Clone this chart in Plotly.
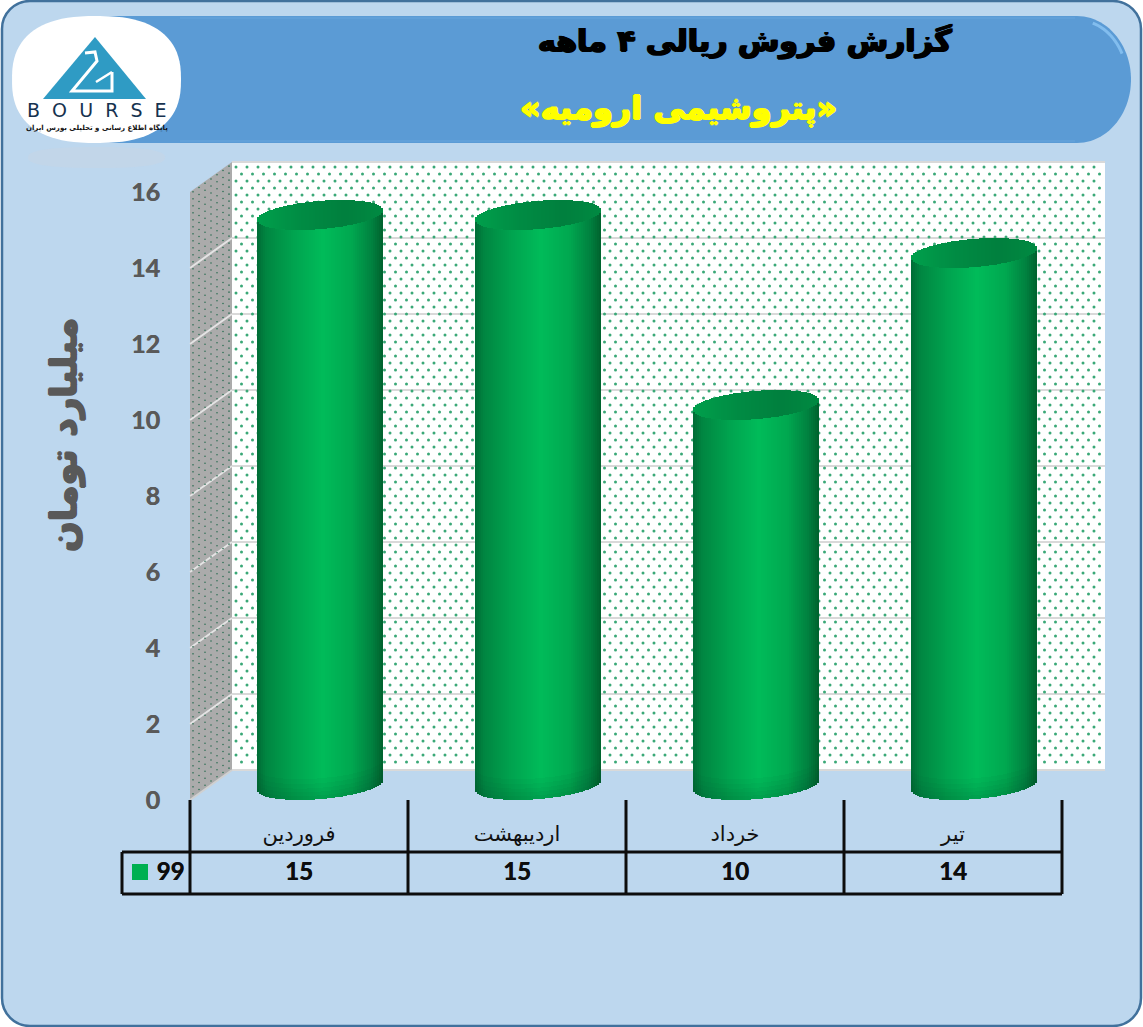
import numpy as np
import plotly.graph_objects as go

# ---- data ----
months = ["فروردین", "اردیبهشت", "خرداد", "تیر"]
sales = [15, 15, 10, 14]
series_name = "99"
y_ticks = [0, 2, 4, 6, 8, 10, 12, 14, 16]
title_1 = "گزارش فروش ریالی ۴ ماهه"
title_2 = "«پتروشیمی ارومیه»"
y_title = "میلیارد تومان"

W, H = 1143, 1027
X0, Y0, CAT_W, UNIT = 190, 800, 218, 38   # pixel origin and scale of the front plane
DX, DY = 42, 30                            # depth of the 3-D box
R, SLICE = 63, 2                           # cylinder half width, slice width


def U(px):
    return (px - X0) / CAT_W


def V(py):
    return (Y0 - py) / UNIT


def PX(x):
    return x / W


def PY(y):
    return 1 - y / H


def path(points, close=True):
    s = "M" + " L".join(f"{PX(x):.5f},{PY(y):.5f}" for x, y in points)
    return s + (" Z" if close else "")


def rounded(x0, y0, x1, y1, r):
    k = 0.45 * r
    return (f"M{PX(x0+r)},{PY(y0)} L{PX(x1-r)},{PY(y0)} "
            f"C{PX(x1-k)},{PY(y0)} {PX(x1)},{PY(y0+k)} {PX(x1)},{PY(y0+r)} "
            f"L{PX(x1)},{PY(y1-r)} C{PX(x1)},{PY(y1-k)} {PX(x1-k)},{PY(y1)} {PX(x1-r)},{PY(y1)} "
            f"L{PX(x0+r)},{PY(y1)} C{PX(x0+k)},{PY(y1)} {PX(x0)},{PY(y1-k)} {PX(x0)},{PY(y1-r)} "
            f"L{PX(x0)},{PY(y0+r)} C{PX(x0)},{PY(y0+k)} {PX(x0+k)},{PY(y0)} {PX(x0+r)},{PY(y0)} Z")


def band_path():
    x0, x1, y0, y1 = 90, 1131, 16, 143
    rx, ry = 54, 63.5
    t = np.linspace(-np.pi / 2, np.pi / 2, 50)
    pts = [(x0, y0)] + [(x1 - rx + rx * np.cos(a), y0 + ry + ry * np.sin(a)) for a in t] + [(x0, y1)]
    return path(pts)


def blob_path(x0, y0, x1, y1, e=2.5):
    cx, cy = (x0 + x1) / 2, (y0 + y1) / 2
    a, b = (x1 - x0) / 2, (y1 - y0) / 2
    t = np.linspace(0, 2 * np.pi, 90)
    xs = cx + a * np.sign(np.cos(t)) * np.abs(np.cos(t)) ** (2 / e)
    ys = cy + b * np.sign(np.sin(t)) * np.abs(np.sin(t)) ** (2 / e)
    return path(list(zip(xs, ys)))


shapes = []


def add(p, fill=None, line=None, lw=0, layer="below", opacity=1):
    shapes.append(dict(type="path", path=p, xref="paper", yref="paper", fillcolor=fill or "rgba(0,0,0,0)",
                       line=dict(color=line or "rgba(0,0,0,0)", width=lw), layer=layer, opacity=opacity))


# panel and header band
add(rounded(2, 1, 1141, 1026, 28), "#BDD7EE", "#41719C", 2.5)
add(band_path(), "#5B9BD5")
glow = np.linspace(-1.25, -0.45, 14)
add(path([(1077 + 50 * np.cos(a), 79.5 + 59.5 * np.sin(a)) for a in glow], close=False), None, "#8CC6F5", 3, opacity=0.8)
add(path([(180, 18), (1075, 18)], close=False), None, "#64A3DB", 2, opacity=0.7)
add(path([(180, 141), (1075, 141)], close=False), None, "#64A3DB", 2, opacity=0.7)

# logo
add(blob_path(28, 147, 165, 168), "#C6D6E6", opacity=0.55)
add(blob_path(12, 16, 181, 143), "#FFFFFF")
add(path([(95, 37), (146, 99), (43, 99)]), "#2F9BC4")
add(path([(85, 53), (95, 52), (97, 61), (72, 91), (112, 91), (112, 72)], close=False), None, "#FFFFFF", 3)
add(path([(112, 72), (96, 82)], close=False), None, "#FFFFFF", 2.5)

# 3-D box: back wall, side wall
add(path([(232, 162), (1105, 162), (1105, 770), (232, 770)]), "#FFFFFF")
add(path([(190, 192), (232, 162), (232, 770), (190, 800)]), "#ABABAB")
for t in y_ticks:
    y = Y0 - t * UNIT
    add(path([(232, y - DY), (1105, y - DY)], close=False), None, "#D9D9D9", 2)
    if 0 < t < 16:
        add(path([(190, y), (232, y - DY)], close=False), None, "#E4E4E4", 2)
add(path([(190, 800), (232, 770)], close=False), None, "#D0D0D0", 2)

# data table lines
for xl in [190, 408, 626, 844, 1062]:
    add(path([(xl, 800), (xl, 894)], close=False), None, "#0D0D0D", 3)
add(path([(122, 852), (1062, 852)], close=False), None, "#0D0D0D", 3)
add(path([(122, 894), (1062, 894)], close=False), None, "#0D0D0D", 3)
add(path([(122, 852), (122, 894)], close=False), None, "#0D0D0D", 3)

fig = go.Figure()

# wall textures
gx, gy = [], []
for r, y in enumerate(np.arange(167, 768, 7.0)):
    for x in np.arange(236 + (r % 2) * 5.5, 1103, 11.0):
        gx.append(U(x))
        gy.append(V(y))
fig.add_trace(go.Scatter(x=gx, y=gy, mode="markers", hoverinfo="skip", showlegend=False,
                         marker=dict(size=3, color="#3AA877", line=dict(width=0))))
sx, sy = [], []
for x in np.arange(193, 231, 6.0):
    for y in np.arange(0, 606, 7.0):
        sx.append(U(x))
        sy.append(V(796 - (x - 190) * DY / DX - y))
fig.add_trace(go.Scatter(x=sx, y=sy, mode="markers", hoverinfo="skip", showlegend=False,
                         marker=dict(size=1.6, color="#2F6F55", line=dict(width=0))))


# cylinders as slices, all heights taken from the series
def ramp(s, stops):
    ss = [a for a, _ in stops]
    return "rgb(%d,%d,%d)" % tuple(int(np.interp(s, ss, [c[k] for _, c in stops])) for k in range(3))


side_stops = [(-1, (0, 108, 54)), (-0.85, (0, 135, 66)), (-0.4, (0, 165, 80)), (0.05, (0, 188, 90)),
              (0.5, (0, 168, 80)), (0.82, (0, 130, 64)), (1, (0, 98, 46))]
top_stops = [(-1, (0, 160, 76)), (-0.3, (0, 140, 68)), (0.4, (0, 128, 62)), (1, (0, 138, 66))]
phi = np.arcsin(21 / R)
dxs = np.arange(-R + SLICE / 2, R, SLICE)
a1, a2 = phi + np.arccos(dxs / R), phi - np.arccos(dxs / R)
e1, e2 = 15 * np.sin(a1), 15 * np.sin(a2)
upper, lower = np.maximum(e1, e2) / UNIT, np.minimum(e1, e2) / UNIT
mid_v = (DY / 2) / UNIT
mid_u = (DX / 2) / CAT_W

bx, by, bb, bc = [], [], [], []
tx, ty, tb, tc = [], [], [], []
sx2, sy2, sb2 = [], [], []
for i, val in enumerate(sales):
    cx = i + 0.5 + mid_u
    for d, up, lo in zip(dxs, upper, lower):
        s = d / R
        bx.append(cx + d / CAT_W)
        by.append(val)
        bb.append(mid_v + lo)
        bc.append(ramp(s, side_stops))
        tx.append(cx + d / CAT_W)
        ty.append(up - lo)
        tb.append(val + mid_v + lo)
        tc.append(ramp(s, top_stops))
        for k in (0.1, 0.2, 0.3, 0.42, 0.55):
            sx2.append(cx + d / CAT_W)
            sy2.append(k)
            sb2.append(mid_v + lo)
w = (SLICE + 0.5) / CAT_W
fig.add_trace(go.Bar(x=bx, y=by, base=bb, width=w, xaxis="x2", yaxis="y2", showlegend=False, hoverinfo="skip",
                     marker=dict(color=bc, line=dict(width=0))))
fig.add_trace(go.Bar(x=sx2, y=sy2, base=sb2, width=SLICE / CAT_W, xaxis="x2", yaxis="y2", showlegend=False,
                     hoverinfo="skip", marker=dict(color="rgba(0,80,40,0.045)", line=dict(width=0))))
fig.add_trace(go.Bar(x=tx, y=ty, base=tb, width=w, xaxis="x2", yaxis="y2", showlegend=False, hoverinfo="skip",
                     marker=dict(color=tc, line=dict(width=0))))

# data table row
NUM_FONT = dict(family="Lato", size=24, color="#0D0D0D", weight="bold", shadow="0.4px 0 0 #0D0D0D")
fig.add_trace(go.Scatter(x=[i + 0.5 for i in range(len(sales))], y=[V(873.5)] * len(sales),
                         mode="text", text=[str(v) for v in sales], showlegend=False, hoverinfo="skip",
                         textfont=NUM_FONT))
fig.add_trace(go.Scatter(x=[U(140)], y=[V(872)], mode="markers", showlegend=False, hoverinfo="skip",
                         marker=dict(symbol="square", size=16, color="#00B050", line=dict(width=0))))
fig.add_trace(go.Scatter(x=[U(170.5)], y=[V(873.5)], mode="text", text=[series_name], showlegend=False,
                         hoverinfo="skip", textfont=NUM_FONT))

ARABIC = "DejaVu Sans"
anns = [
    dict(x=PX(745), y=PY(41), text=f"<b>{title_1}</b>",
         font=dict(family=ARABIC, size=30, color="#000000", shadow="1px 0 0 #000, -1px 0 0 #000, 0 1px 0 #000")),
    dict(x=PX(678), y=PY(108), text=f"<b>{title_2}</b>",
         font=dict(family=ARABIC, size=32, color="#FFFF00", shadow="1px 0 0 #FFFF00, -1px 0 0 #FFFF00, 0 1px 0 #FFFF00, 0 -1px 0 #FFFF00")),
    dict(x=PX(64), y=PY(435), text=f"<b>{y_title}</b>", textangle=-90,
         font=dict(family=ARABIC, size=36, color="#595959", shadow="1px 0 0 #595959, -1px 0 0 #595959, 0 1px 0 #595959, 0 -1px 0 #595959")),
    dict(x=PX(97), y=PY(110), text="B\u00a0\u00a0O\u00a0\u00a0U\u00a0\u00a0R\u00a0\u00a0S\u00a0\u00a0E",
         font=dict(family="DejaVu Sans", size=19, color="#16324F")),
    dict(x=PX(97), y=PY(127), text="<b>پایگاه اطلاع رسانی و تحلیلی بورس ایران</b>",
         font=dict(family=ARABIC, size=7, color="#111111")),
]
for a in anns:
    a.update(xref="paper", yref="paper", showarrow=False, xanchor="center", yanchor="middle")

x_range = [U(0), U(W)]
y_range = [V(H), V(0)]
fig.update_layout(
    width=W, height=H, margin=dict(l=0, r=0, t=0, b=0), autosize=False,
    paper_bgcolor="#FFFFFF", plot_bgcolor="rgba(0,0,0,0)", barmode="overlay", bargap=0,
    shapes=shapes, annotations=anns, showlegend=False,
    xaxis=dict(range=x_range, domain=[0, 1], anchor="free", position=PY(800), tickmode="array",
               tickvals=[i + 0.5 for i in range(len(months))], ticktext=months, ticks="outside",
               ticklen=15, tickcolor="rgba(0,0,0,0)", showgrid=False, zeroline=False, showline=False,
               tickfont=dict(family=ARABIC, size=21, color="#111111"), fixedrange=True, automargin=False),
    yaxis=dict(range=y_range, domain=[0, 1], anchor="free", position=PX(190), tickmode="array",
               tickvals=y_ticks, ticktext=[str(t) for t in y_ticks], ticks="outside", ticklen=25,
               tickcolor="rgba(0,0,0,0)", showgrid=False, zeroline=False, showline=False,
               tickfont=dict(family="Lato", size=25, color="#595959", weight="bold", shadow="0.4px 0 0 #595959"),
               fixedrange=True, automargin=False),
    xaxis2=dict(range=x_range, overlaying="x", anchor="y2", visible=False, fixedrange=True),
    yaxis2=dict(range=y_range, overlaying="y", anchor="x2", visible=False, fixedrange=True),
)
fig.write_html("out.html", post_script="document.body.style.margin='0';", config=dict(displayModeBar=False))
